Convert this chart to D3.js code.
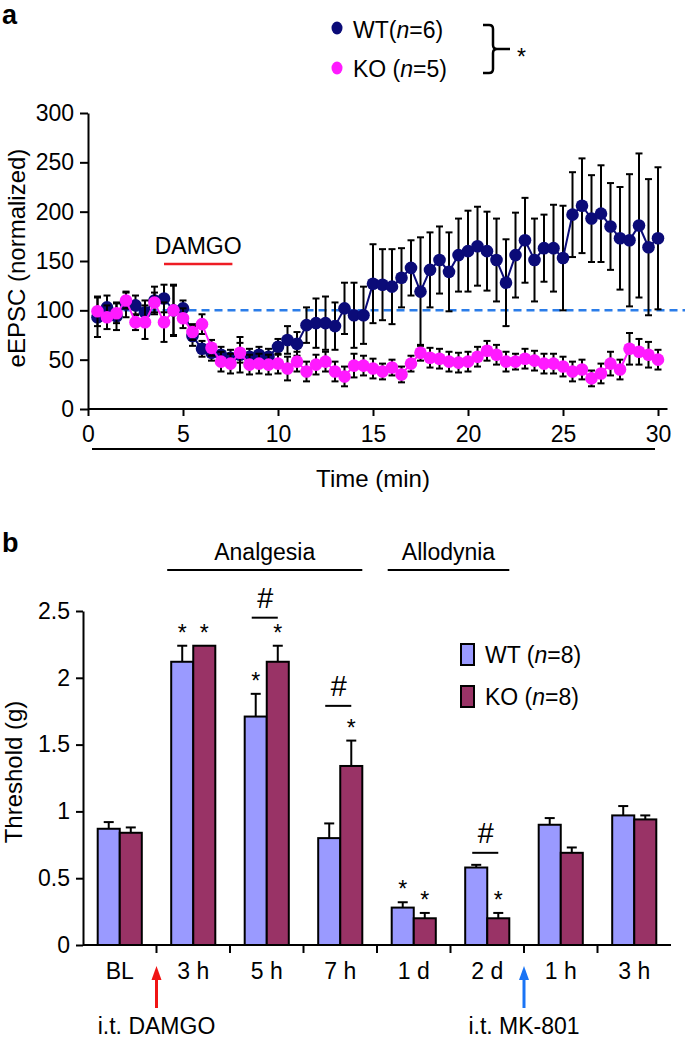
<!DOCTYPE html>
<html>
<head>
<meta charset="utf-8">
<script src="https://cdn.jsdelivr.net/npm/d3@7"></script>
<style>
  body { margin: 0; background: #fff; }
  text { font-family: "Liberation Sans", Arial, sans-serif; fill: #000; }
</style>
</head>
<body>
<script>
// ---------- panel a data (time in min, eEPSC normalized) ----------
const times = [0.5,1,1.5,2,2.5,3,3.5,4,4.5,5,5.5,6,6.5,7,7.5,8,8.5,9,9.5,10,
  10.5,11,11.5,12,12.5,13,13.5,14,14.5,15,15.5,16,16.5,17,17.5,18,18.5,19,19.5,20,
  20.5,21,21.5,22,22.5,23,23.5,24,24.5,25,25.5,26,26.5,27,27.5,28,28.5,29,29.5,30];
const wtEpsc = [93,103,94,106,105,98,110,112,100,102,74,61,57,55,52,55,53,55,53,63,
  70,66,85,87,87,84,102,95,95,127,126,124,133,143,119,141,151,139,156,160,
  165,160,151,128,156,171,151,163,163,153,197,206,193,198,185,173,171,186,164,173];
const wtEpscErr = [20,12,14,13,10,12,14,14,25,8,10,8,8,8,8,18,8,8,8,8,
  14,12,18,25,27,24,26,33,29,40,36,38,30,28,55,38,34,40,37,41,
  40,40,42,44,43,43,42,34,44,53,43,48,44,49,44,52,67,73,69,72];
const koEpsc = [99,93,97,110,88,88,108,88,100,92,78,86,62,48,46,57,45,46,45,46,
  41,48,38,45,48,38,33,44,44,41,38,42,35,46,57,52,51,48,47,48,
  53,59,55,48,48,51,49,46,46,43,38,40,31,36,46,40,61,58,55,50];
const koEpscErr = [15,12,10,8,8,17,10,20,26,10,8,10,8,10,10,10,10,10,10,10,
  12,10,10,10,10,10,10,12,10,10,8,8,8,8,8,10,10,10,10,10,
  10,10,10,10,8,10,10,10,10,10,10,10,8,10,12,10,16,13,13,10];
const xTicksA = [0,5,10,15,20,25,30];
const yTicksA = [0,50,100,150,200,250,300];
const baseline = 100;
const damgo = {start: 4, end: 7.6, level: 147};

// ---------- panel b data (threshold, g) ----------
const groupLabels = ["BL","3 h","5 h","7 h","1 d","2 d","1 h","3 h"];
const wtMean = [0.87, 2.12, 1.71, 0.80, 0.28, 0.58, 0.90, 0.97];
const wtErr  = [0.05, 0.12, 0.17, 0.11, 0.04, 0.02, 0.05, 0.07];
const koMean = [0.84, 2.24, 2.12, 1.34, 0.20, 0.20, 0.69, 0.94];
const koErr  = [0.04, 0.00, 0.12, 0.19, 0.04, 0.04, 0.04, 0.03];
const wtSig  = [0,1,1,0,1,0,0,0];
const koSig  = [0,1,1,1,1,1,0,0];
const hashLevel = [null,null,2.45,1.79,null,0.69,null,null];
const yTicksB = [0,0.5,1,1.5,2,2.5];
const phases = [{label: "Analgesia", from: 1, to: 3}, {label: "Allodynia", from: 4, to: 5}];
const injections = [{label: "i.t. DAMGO", at: 1, color: "#f01414"}, {label: "i.t. MK-801", at: 6, color: "#1a74f5"}];

const navy = "#0b0b78", magenta = "#ff1aff";
const wtBar = "#9a9aff", koBar = "#993366";
const fs = "23px";

const svg = d3.select("body").append("svg")
    .attr("width", 685).attr("height", 1040);

function styleAxis(g) {
  g.selectAll("path, line").attr("stroke", "#000").attr("stroke-width", 2);
  g.selectAll("text").style("font-size", fs).attr("fill", "#000");
}

// ================= panel a =================
const xA = d3.scaleLinear().domain([0, 30]).range([88, 658]);
const yA = d3.scaleLinear().domain([0, 300]).range([409, 113]);

svg.append("text").attr("x", 2).attr("y", 24)
    .style("font-size", "27px").style("font-weight", "bold").text("a");

// legend a
const legA = svg.append("g");
[[navy, "WT(", "=6)", 28, 38], [magenta, "KO (", "=5)", 68, 77]].forEach(([c, pre, post, cy, by]) => {
  legA.append("ellipse").attr("cx", 337).attr("cy", cy).attr("rx", 5.5).attr("ry", 6.5).attr("fill", c);
  const t = legA.append("text").attr("x", 353).attr("y", by).style("font-size", fs);
  t.append("tspan").text(pre);
  t.append("tspan").style("font-style", "italic").text("n");
  t.append("tspan").text(post);
});
legA.append("path")
    .attr("d", "M483,25 H489 Q493,25 493,29 V45 Q493,49 497,49 H510 M497,49 Q493,49 493,53 V69 Q493,73 489,73 H483")
    .attr("fill", "none").attr("stroke", "#000").attr("stroke-width", 2.5);
legA.append("text").attr("x", 517).attr("y", 65).style("font-size", "23px").text("*");

// axes a
svg.append("g").attr("transform", "translate(88,0)")
    .call(d3.axisLeft(yA).tickValues(yTicksA).tickSize(8).tickPadding(6).tickSizeOuter(0))
    .call(styleAxis);
const gxA = svg.append("g").attr("transform", "translate(0,409)")
    .call(d3.axisBottom(xA).tickValues(xTicksA).tickSize(7).tickPadding(10).tickSizeOuter(0))
    .call(styleAxis);
gxA.select(".domain").remove();
svg.append("line").attr("x1", xA(0)).attr("x2", xA(30.5)).attr("y1", 409).attr("y2", 409)
    .attr("stroke", "#000").attr("stroke-width", 2);

svg.append("line").attr("x1", 92).attr("x2", 655).attr("y1", 449).attr("y2", 449)
    .attr("stroke", "#000").attr("stroke-width", 2);
svg.append("text").attr("x", 373).attr("y", 487).attr("text-anchor", "middle")
    .style("font-size", "24px").text("Time (min)");
svg.append("text").attr("transform", "translate(25,258) rotate(-90)").attr("text-anchor", "middle")
    .style("font-size", "24px").text("eEPSC (normalized)");

// DAMGO bar
svg.append("line").attr("x1", xA(damgo.start)).attr("x2", xA(damgo.end))
    .attr("y1", yA(damgo.level)).attr("y2", yA(damgo.level))
    .attr("stroke", "#ee1c24").attr("stroke-width", 2.5);
svg.append("text").attr("x", (xA(damgo.start) + xA(damgo.end)) / 2).attr("y", yA(damgo.level) - 10)
    .attr("text-anchor", "middle").style("font-size", fs).text("DAMGO");

// baseline dashed
svg.append("line").attr("x1", xA(0.5)).attr("x2", 685).attr("y1", yA(baseline)).attr("y2", yA(baseline))
    .attr("stroke", "#2b7de9").attr("stroke-width", 2.5).attr("stroke-dasharray", "8,5");

function drawSeries(vals, errs, color) {
  const pts = times.map((t, i) => ({t, v: vals[i], e: errs[i]}));
  const g = svg.append("g");
  const eb = g.selectAll(".eb").data(pts).join("g").attr("stroke", "#000").attr("stroke-width", 2);
  eb.append("line").attr("x1", d => xA(d.t)).attr("x2", d => xA(d.t))
      .attr("y1", d => yA(d.v - d.e)).attr("y2", d => yA(d.v + d.e));
  eb.append("line").attr("x1", d => xA(d.t) - 3.5).attr("x2", d => xA(d.t) + 3.5)
      .attr("y1", d => yA(d.v + d.e)).attr("y2", d => yA(d.v + d.e));
  eb.append("line").attr("x1", d => xA(d.t) - 3.5).attr("x2", d => xA(d.t) + 3.5)
      .attr("y1", d => yA(d.v - d.e)).attr("y2", d => yA(d.v - d.e));
  g.append("path").datum(pts)
      .attr("d", d3.line().x(d => xA(d.t)).y(d => yA(d.v)))
      .attr("fill", "none").attr("stroke", color).attr("stroke-width", 2);
  g.selectAll("circle").data(pts).join("circle")
      .attr("cx", d => xA(d.t)).attr("cy", d => yA(d.v)).attr("r", 6.3).attr("fill", color);
}
drawSeries(wtEpsc, wtEpscErr, navy);
drawSeries(koEpsc, koEpscErr, magenta);

// ================= panel b =================
const idx = groupLabels.map((d, i) => i);
const xB = d3.scaleBand().domain(idx).range([83, 671]);
const bw = xB.bandwidth();
const x1 = d3.scaleBand().domain(["WT", "KO"]).range([bw * 0.2, bw * 0.8]);
const yB = d3.scaleLinear().domain([0, 2.5]).range([945, 611]);

svg.append("text").attr("x", 2).attr("y", 552)
    .style("font-size", "27px").style("font-weight", "bold").text("b");

svg.append("g").attr("transform", "translate(83,0)")
    .call(d3.axisLeft(yB).tickValues(yTicksB).tickFormat(d => String(d)).tickSize(7).tickPadding(6).tickSizeOuter(0))
    .call(styleAxis);
svg.append("text").attr("transform", "translate(22,772) rotate(-90)").attr("text-anchor", "middle")
    .style("font-size", "24px").text("Threshold (g)");

const rows = idx.map(i => [
  {i, key: "WT", v: wtMean[i], e: wtErr[i], sig: wtSig[i], fill: wtBar},
  {i, key: "KO", v: koMean[i], e: koErr[i], sig: koSig[i], fill: koBar}
]).flat();
const cx = d => xB(d.i) + x1(d.key) + x1.bandwidth() / 2;

const eB = svg.append("g").attr("stroke", "#000").attr("stroke-width", 2);
rows.filter(d => d.e > 0).forEach(d => {
  eB.append("line").attr("x1", cx(d)).attr("x2", cx(d)).attr("y1", yB(d.v)).attr("y2", yB(d.v + d.e));
  eB.append("line").attr("x1", cx(d) - 5).attr("x2", cx(d) + 5).attr("y1", yB(d.v + d.e)).attr("y2", yB(d.v + d.e));
});
svg.append("g").selectAll("rect").data(rows).join("rect")
    .attr("x", d => xB(d.i) + x1(d.key)).attr("width", x1.bandwidth())
    .attr("y", d => yB(d.v)).attr("height", d => yB(0) - yB(d.v))
    .attr("fill", d => d.fill).attr("stroke", "#000").attr("stroke-width", 2);

svg.append("g").selectAll("text").data(rows.filter(d => d.sig)).join("text")
    .attr("x", cx).attr("y", d => yB(d.v + d.e) - 5).attr("text-anchor", "middle")
    .style("font-size", "23px").text("*");

idx.filter(i => hashLevel[i] !== null).forEach(i => {
  const a = xB(i) + x1("WT") + x1.bandwidth() / 2 - 4;
  const b = xB(i) + x1("KO") + x1.bandwidth() / 2;
  const y = yB(hashLevel[i]);
  svg.append("line").attr("x1", a).attr("x2", b).attr("y1", y).attr("y2", y)
      .attr("stroke", "#000").attr("stroke-width", 2);
  svg.append("text").attr("x", (a + b) / 2).attr("y", y - 10).attr("text-anchor", "middle")
      .style("font-size", "29px").style("font-style", "italic").text("#");
});

// x axis b
svg.append("line").attr("x1", 83).attr("x2", 671).attr("y1", 945).attr("y2", 945)
    .attr("stroke", "#000").attr("stroke-width", 2);
svg.append("g").selectAll("line").data(idx.slice(1)).join("line")
    .attr("x1", i => xB(i)).attr("x2", i => xB(i)).attr("y1", 945).attr("y2", 953)
    .attr("stroke", "#000").attr("stroke-width", 2);
svg.append("g").selectAll("text").data(idx).join("text")
    .attr("x", i => xB(i) + bw / 2).attr("y", 979).attr("text-anchor", "middle")
    .style("font-size", fs).text(i => groupLabels[i]);

phases.forEach(p => {
  const a = xB(p.from) + x1("WT") - 4;
  const b = xB(p.to) + x1("KO") + x1.bandwidth();
  svg.append("line").attr("x1", a).attr("x2", b).attr("y1", 570).attr("y2", 570)
      .attr("stroke", "#000").attr("stroke-width", 2);
  svg.append("text").attr("x", (a + b) / 2).attr("y", 560).attr("text-anchor", "middle")
      .style("font-size", fs).text(p.label);
});

injections.forEach(inj => {
  const x = xB(inj.at);
  svg.append("line").attr("x1", x).attr("x2", x).attr("y1", 1008).attr("y2", 978)
      .attr("stroke", inj.color).attr("stroke-width", 3);
  svg.append("path").attr("d", `M${x - 5},980 L${x},966 L${x + 5},980 Z`).attr("fill", inj.color);
  svg.append("text").attr("x", x).attr("y", 1034).attr("text-anchor", "middle")
      .style("font-size", fs).text(inj.label);
});

// legend b
[[wtBar, "WT (", "=8)", 644, 663], [koBar, "KO (", "=8)", 686, 705]].forEach(([c, pre, post, ry, by]) => {
  svg.append("rect").attr("x", 461).attr("y", ry).attr("width", 13).attr("height", 21)
      .attr("fill", c).attr("stroke", "#000").attr("stroke-width", 2);
  const t = svg.append("text").attr("x", 485).attr("y", by).style("font-size", fs);
  t.append("tspan").text(pre);
  t.append("tspan").style("font-style", "italic").text("n");
  t.append("tspan").text(post);
});
</script>
</body>
</html>
